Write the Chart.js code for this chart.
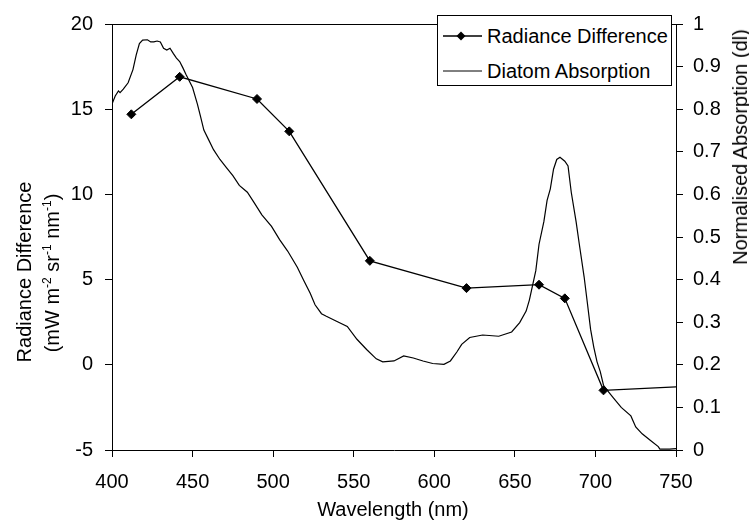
<!DOCTYPE html>
<html>
<head>
<meta charset="utf-8">
<script src="https://cdn.jsdelivr.net/npm/chart.js@4.4.1/dist/chart.umd.min.js"></script>
<style>
  body { margin: 0; background: #fff; }
  #wrap { position: relative; width: 749px; height: 523px; font-family: "Liberation Sans", Arial, sans-serif; color: #000; }
  canvas { position: absolute; left: 0; top: 0; }
  .lbl { position: absolute; white-space: nowrap; font-size: 20px; line-height: 1; }
  .rot { transform: translate(-50%, -50%) rotate(-90deg); }
  .lbl sup { font-size: 12px; vertical-align: 8px; line-height: 0; }
  #legend { position: absolute; left: 437px; top: 15px; width: 233px; height: 69px; border: 1px solid #000; background: #fff; font-size: 20px; }
  #legend .row { position: absolute; left: 5px; height: 24px; display: flex; align-items: center; white-space: nowrap; }
  #legend svg { margin-right: 5px; }
</style>
</head>
<body>
<div id="wrap">
  <canvas id="chart" width="749" height="523"></canvas>
  <div class="lbl rot" style="left:24px; top:272px;">Radiance Difference</div>
  <div class="lbl rot" style="left:52px; top:273px;">(mW m<sup>-2</sup> sr<sup>-1</sup> nm<sup>-1</sup>)</div>
  <div class="lbl rot" style="left:740px; top:147px;">Normalised Absorption (dl)</div>
  <div class="lbl" style="left:393px; top:509px; transform: translate(-50%, -50%);">Wavelength (nm)</div>
  <div id="legend">
    <div class="row" style="top:8px;">
      <svg width="39" height="12"><line x1="0" y1="6" x2="39" y2="6" stroke="#000" stroke-width="1.3"/><polygon points="13.5,6 18,1.5 22.5,6 18,10.5" fill="#000"/></svg>
      Radiance Difference
    </div>
    <div class="row" style="top:43px;">
      <svg width="39" height="12"><line x1="0" y1="6" x2="39" y2="6" stroke="#000" stroke-width="1"/></svg>
      Diatom Absorption
    </div>
  </div>
</div>
<script>
// radiance difference at sensor bands (left axis)
const bandNm = [412, 442, 490, 510, 560, 620, 665, 681, 705, 754];
const radiance = [14.7, 16.9, 15.6, 13.7, 6.1, 4.5, 4.7, 3.9, -1.5, -1.28];

// diatom absorption spectrum (right axis)
const absNm = [400, 402, 404, 405, 407, 410, 413, 415, 417, 419, 422, 424, 426, 428, 430, 432, 434, 436, 438, 440,
  442, 444, 446, 450, 453, 455, 457, 460, 463, 467, 471, 475, 479, 484, 488, 493, 499, 504, 509, 515,
  519, 523, 526, 530, 533, 539, 546, 552, 558, 564, 568, 575, 581, 587, 593, 599, 606, 610, 614, 617,
  622, 630, 640, 648, 653, 657, 659, 663, 665, 668, 670, 672, 674, 676, 678, 681, 683, 685, 688, 690,
  693, 695, 697, 699, 701, 703, 705, 707, 711, 716, 722, 725, 729, 734, 739, 740, 743, 746, 750];
const absorption = [0.812, 0.831, 0.843, 0.839, 0.847, 0.862, 0.893, 0.927, 0.954, 0.962, 0.963, 0.958, 0.958, 0.960, 0.958, 0.943, 0.939, 0.943, 0.931, 0.920,
  0.912, 0.897, 0.881, 0.851, 0.812, 0.782, 0.751, 0.728, 0.705, 0.682, 0.663, 0.644, 0.621, 0.605, 0.582, 0.552, 0.525, 0.494, 0.467, 0.429,
  0.398, 0.368, 0.341, 0.320, 0.314, 0.303, 0.290, 0.260, 0.236, 0.214, 0.207, 0.209, 0.221, 0.216, 0.209, 0.203, 0.201, 0.209, 0.230, 0.248,
  0.264, 0.270, 0.267, 0.277, 0.299, 0.326, 0.352, 0.421, 0.483, 0.536, 0.586, 0.613, 0.659, 0.682, 0.687, 0.678, 0.667, 0.605, 0.536, 0.483,
  0.406, 0.345, 0.283, 0.241, 0.207, 0.184, 0.152, 0.142, 0.123, 0.100, 0.080, 0.054, 0.038, 0.023, 0.008, 0.002, 0.002, 0.002, 0.003];

const xTicks = { min: 400, max: 750, step: 50 };
const leftTicks = { min: -5, max: 20, step: 5 };
const rightTicks = { min: 0, max: 1, step: 0.1 };

const font = { family: '"Liberation Sans", Arial, sans-serif', size: 20 };

// top edge of the plot frame
const frameTop = {
  id: 'frameTop',
  afterDraw(chart) {
    const a = chart.chartArea, ctx = chart.ctx;
    ctx.save();
    ctx.strokeStyle = '#000';
    ctx.lineWidth = 1;
    ctx.beginPath();
    ctx.moveTo(a.left, a.top + 0.5);
    ctx.lineTo(a.right, a.top + 0.5);
    ctx.stroke();
    ctx.restore();
  }
};

function axisGrid() {
  return { display: true, drawOnChartArea: false, drawTicks: true, tickLength: 7, color: '#000', lineWidth: 1 };
}

new Chart(document.getElementById('chart'), {
  type: 'line',
  data: {
    datasets: [
      {
        label: 'Radiance Difference',
        data: bandNm.map((x, i) => ({ x, y: radiance[i] })),
        yAxisID: 'y',
        borderColor: '#000',
        borderWidth: 1.3,
        pointStyle: 'rectRot',
        pointRadius: bandNm.map(x => x > xTicks.max ? 0 : 4.5),
        pointBackgroundColor: '#000',
        pointBorderColor: '#000',
        pointBorderWidth: 1,
        tension: 0,
      },
      {
        label: 'Diatom Absorption',
        data: absNm.map((x, i) => ({ x, y: absorption[i] })),
        yAxisID: 'y1',
        borderColor: '#000',
        borderWidth: 1.2,
        pointRadius: 0,
        tension: 0,
      }
    ]
  },
  options: {
    responsive: false,
    animation: false,
    layout: { padding: { top: 15, left: 0, right: 0, bottom: 0 } },
    plugins: { legend: { display: false }, tooltip: { enabled: false } },
    scales: {
      x: {
        type: 'linear', min: xTicks.min, max: xTicks.max,
        ticks: { stepSize: xTicks.step, font, color: '#000', padding: 13, maxRotation: 0 },
        grid: axisGrid(),
        border: { display: true, color: '#000', width: 1 },
        afterFit(s) { s.height = 73; }
      },
      y: {
        position: 'left', min: leftTicks.min, max: leftTicks.max,
        ticks: { stepSize: leftTicks.step, font, color: '#000', padding: 12 },
        grid: axisGrid(),
        border: { display: true, color: '#000', width: 1 },
        afterFit(s) { s.width = 112; }
      },
      y1: {
        position: 'right', min: rightTicks.min, max: rightTicks.max,
        ticks: { stepSize: rightTicks.step, font, color: '#000', padding: 10,
          callback: v => String(+v.toFixed(1)) },
        grid: axisGrid(),
        border: { display: true, color: '#000', width: 1 },
        afterFit(s) { s.width = 73; }
      }
    }
  },
  plugins: [frameTop]
});
</script>
</body>
</html>
